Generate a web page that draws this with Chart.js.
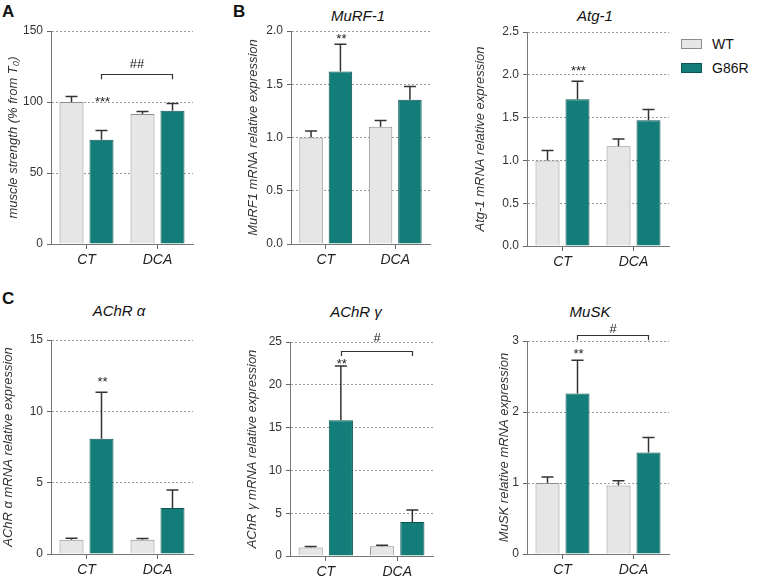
<!DOCTYPE html>
<html>
<head>
<meta charset="utf-8">
<script src="https://cdn.jsdelivr.net/npm/chart.js@4.4.0/dist/chart.umd.min.js"></script>
<style>
  body { margin: 0; background: #fff; width: 759px; height: 579px; position: relative; overflow: hidden;
         font-family: "Liberation Sans", Arial, Helvetica, sans-serif; color: #111; }
  canvas { position: absolute; }
  .letter { position: absolute; font-weight: bold; font-size: 17px; line-height: 1; }
  .title { position: absolute; font-style: italic; font-size: 15px; line-height: 1; white-space: nowrap;
           transform: translate(-50%, -50%); }
  .sw { position: absolute; width: 21px; height: 10px; box-sizing: border-box; border: 1px solid; }
  .key { position: absolute; font-size: 14px; line-height: 1; transform: translateY(-50%); }
</style>
</head>
<body>
<div class="letter" style="left:2px; top:3px;">A</div>
<div class="letter" style="left:233px; top:3px;">B</div>
<div class="letter" style="left:2px; top:290px;">C</div>

<div class="title" style="left:358px; top:15px;">MuRF-1</div>
<div class="title" style="left:595px; top:15px;">Atg-1</div>
<div class="title" style="left:119px; top:310px;">AChR α</div>
<div class="title" style="left:356px; top:311px;">AChR γ</div>
<div class="title" style="left:590px; top:311px;">MuSK</div>

<div class="sw" style="left:681px; top:39px; background:#e6e6e6; border-color:#8c8c8c;"></div>
<div class="key" style="left:712px; top:44px;">WT</div>
<div class="sw" style="left:681px; top:63px; background:#137d79; border-color:#0c5552;"></div>
<div class="key" style="left:712px; top:68px;">G86R</div>

<script>
const categories = ['CT', 'DCA'];
const groups = ['WT', 'G86R'];

// muscle strength (A)
const strengthWT = [100, 91.5];
const strengthWTsem = [3.9, 1.8];
const strengthG86R = [73.5, 93.8];
const strengthG86Rsem = [6.4, 5.1];

// MuRF-1
const murfWT = [1.0, 1.10];
const murfWTsem = [0.06, 0.06];
const murfG86R = [1.62, 1.355];
const murfG86Rsem = [0.255, 0.125];

// Atg-1
const atgWT = [1.0, 1.165];
const atgWTsem = [0.115, 0.085];
const atgG86R = [1.715, 1.47];
const atgG86Rsem = [0.21, 0.125];

// AChR alpha
const achraWT = [1.0, 1.0];
const achraWTsem = [0.1, 0.08];
const achraG86R = [8.07, 3.22];
const achraG86Rsem = [3.27, 1.26];

// AChR gamma
const achrgWT = [1.0, 1.13];
const achrgWTsem = [0.12, 0.12];
const achrgG86R = [15.85, 3.97];
const achrgG86Rsem = [6.35, 1.4];

// MuSK
const muskWT = [1.0, 0.965];
const muskWTsem = [0.085, 0.065];
const muskG86R = [2.26, 1.43];
const muskG86Rsem = [0.47, 0.21];

const FONT = '"Liberation Sans", Arial, Helvetica, sans-serif';

const panels = [
  { yTitle: 'muscle strength (% from T₀)', max: 150, step: 50, dec: 0,
    wt: strengthWT, wtSem: strengthWTsem, mut: strengthG86R, mutSem: strengthG86Rsem,
    stars: '***', starY: 103.5, bracket: { y: 119.5, drop: 3.5, text: '##', textY: 127.5 },
    box: { axisX: 51, right: 193, top: 31, bottom: 244, titleX: 14 } },
  { yTitle: 'MuRF1 mRNA relative expression', max: 2, step: 0.5, dec: 1,
    wt: murfWT, wtSem: murfWTsem, mut: murfG86R, mutSem: murfG86Rsem,
    stars: '**', starY: 1.97, bracket: null,
    box: { axisX: 291, right: 430, top: 31, bottom: 244, titleX: 254 } },
  { yTitle: 'Atg-1 mRNA relative expression', max: 2.5, step: 0.5, dec: 1,
    wt: atgWT, wtSem: atgWTsem, mut: atgG86R, mutSem: atgG86Rsem,
    stars: '***', starY: 2.1, bracket: null,
    box: { axisX: 527, right: 669, top: 32, bottom: 246, titleX: 481 } },
  { yTitle: 'AChR α mRNA relative expression', max: 15, step: 5, dec: 0,
    wt: achraWT, wtSem: achraWTsem, mut: achraG86R, mutSem: achraG86Rsem,
    stars: '**', starY: 12.4, bracket: null,
    box: { axisX: 51, right: 193, top: 340, bottom: 554, titleX: 9 } },
  { yTitle: 'AChR γ mRNA relative expression', max: 25, step: 5, dec: 0,
    wt: achrgWT, wtSem: achrgWTsem, mut: achrgG86R, mutSem: achrgG86Rsem,
    stars: '**', starY: 22.9, bracket: { y: 23.95, drop: 0.6, text: '#', textY: 25.6 },
    box: { axisX: 290, right: 433, top: 342, bottom: 556, titleX: 253 } },
  { yTitle: 'MuSK relative mRNA expression', max: 3, step: 1, dec: 0,
    wt: muskWT, wtSem: muskWTsem, mut: muskG86R, mutSem: muskG86Rsem,
    stars: '**', starY: 2.88, bracket: { y: 3.09, drop: 0.08, text: '#', textY: 3.18 },
    box: { axisX: 527, right: 669, top: 341, bottom: 554, titleX: 505 } }
];

// error bars (mean + SEM, upward only)
const errorBars = {
  id: 'errorBars',
  afterDatasetsDraw(chart) {
    const ctx = chart.ctx;
    const y = chart.scales.y;
    chart.data.datasets.forEach((ds, di) => {
      chart.getDatasetMeta(di).data.forEach((bar, i) => {
        const top = y.getPixelForValue(ds.data[i] + ds.sem[i]);
        ctx.save();
        ctx.strokeStyle = '#333';
        ctx.lineWidth = 1.5;
        ctx.beginPath();
        ctx.moveTo(bar.x, bar.y);
        ctx.lineTo(bar.x, top);
        ctx.moveTo(bar.x - 6, top);
        ctx.lineTo(bar.x + 6, top);
        ctx.stroke();
        ctx.restore();
      });
    });
  }
};

function sigMarks(p) {
  return {
    id: 'sigMarks',
    afterDatasetsDraw(chart) {
      const ctx = chart.ctx;
      const y = chart.scales.y;
      const mut = chart.getDatasetMeta(1).data;
      ctx.save();
      ctx.fillStyle = '#222';
      ctx.textAlign = 'center';
      ctx.textBaseline = 'alphabetic';
      ctx.font = '13px ' + FONT;
      ctx.fillText(p.stars, mut[0].x + 1, y.getPixelForValue(p.starY) + 8.5);
      if (p.bracket) {
        const b = p.bracket;
        const ly = Math.round(y.getPixelForValue(b.y)) + 0.5;
        const ty = y.getPixelForValue(b.y - b.drop);
        const x1 = Math.round(mut[0].x) + 0.5, x2 = Math.round(mut[1].x) + 0.5;
        ctx.strokeStyle = '#333';
        ctx.lineWidth = 1.2;
        ctx.beginPath();
        ctx.moveTo(x1, ty);
        ctx.lineTo(x1, ly);
        ctx.lineTo(x2, ly);
        ctx.lineTo(x2, ty);
        ctx.stroke();
        ctx.fillText(b.text, (x1 + x2) / 2, y.getPixelForValue(b.textY) + 5);
      }
      ctx.restore();
    }
  };
}

panels.forEach(p => {
  const b = p.box;
  const padTop = 20, xH = 32, padRight = 6;
  const left = b.titleX - 8;
  const w = Math.round(b.right - left + padRight);
  const h = Math.round(b.bottom - b.top + padTop + xH);
  const cv = document.createElement('canvas');
  cv.width = w;
  cv.height = h;
  cv.style.left = left + 'px';
  cv.style.top = (b.top - padTop) + 'px';
  cv.style.width = w + 'px';
  cv.style.height = h + 'px';
  document.body.appendChild(cv);

  new Chart(cv, {
    type: 'bar',
    data: {
      labels: categories,
      datasets: [
        { label: groups[0], data: p.wt, sem: p.wtSem, backgroundColor: '#e6e6e6', borderColor: '#8c8c8c',
          borderWidth: 1, categoryPercentage: 0.845, barPercentage: 0.8 },
        { label: groups[1], data: p.mut, sem: p.mutSem, backgroundColor: '#137d79', borderColor: '#0c5552',
          borderWidth: 1, categoryPercentage: 0.845, barPercentage: 0.8 }
      ]
    },
    options: {
      responsive: false,
      animation: false,
      layout: { padding: { top: padTop, right: padRight, left: 0, bottom: 0 } },
      plugins: { legend: { display: false }, tooltip: { enabled: false }, title: { display: false } },
      scales: {
        x: {
          offset: true,
          afterFit: s => { s.height = xH; },
          ticks: { color: '#222', padding: 3, font: { size: 14, style: 'italic', family: FONT } },
          grid: { offset: false, drawOnChartArea: false, drawTicks: true, tickLength: 5, tickColor: '#666' },
          border: { display: true, color: '#777', width: 1 }
        },
        y: {
          min: 0,
          max: p.max,
          afterFit: s => { s.width = b.axisX - left; },
          ticks: { stepSize: p.step, padding: 4, color: '#333', font: { size: 12, family: FONT },
                   callback: v => Number(v).toFixed(p.dec) },
          grid: {
            color: c => (c.tick && c.tick.value === 0) ? 'rgba(0,0,0,0)' : '#9a9a9a',
            tickColor: '#666', tickLength: 4, lineWidth: 1
          },
          border: { display: true, color: '#777', width: 1, dash: [2, 2] },
          title: { display: true, text: p.yTitle, color: '#333', padding: { top: 0, bottom: 0 },
                   font: { size: 13, style: 'italic', family: FONT, lineHeight: 1.2 } }
        }
      }
    },
    plugins: [errorBars, sigMarks(p)]
  });
});
</script>
</body>
</html>
